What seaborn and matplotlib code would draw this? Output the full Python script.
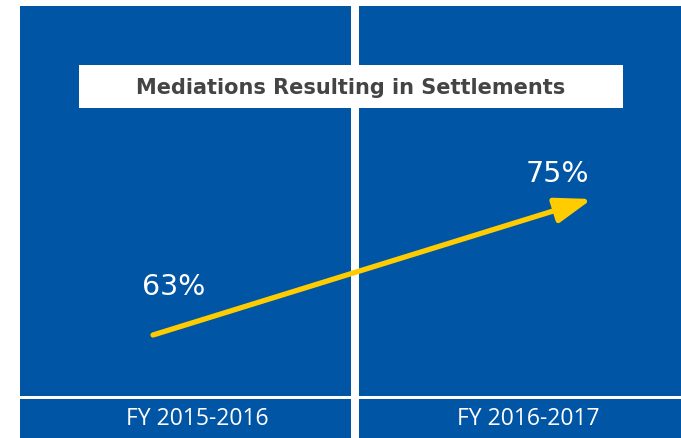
import matplotlib.pyplot as plt
import seaborn as sns
from matplotlib.patches import Rectangle

# Données
categories = ["FY 2015-2016", "FY 2016-2017"]
settlement_rates = [63, 75]
rate_labels = ["63%", "75%"]
title_text = "Mediations Resulting in Settlements"

BLUE = "#0055A5"
YELLOW = "#FFCC00"
W, H = 681, 439

sns.set_theme(style="white")
plt.rcParams["font.family"] = ["Open Sans", "DejaVu Sans"]

fig = plt.figure(figsize=(W / 100, H / 100), dpi=100)
fig.patch.set_facecolor("white")

# Zone principale (panneaux bleus)
ax = fig.add_axes([20 / W, 42 / H, 661 / W, 390 / H])
ax.set_facecolor(BLUE)
ax.set_xlim(-133 / 439, 528 / 439)
ax.set_ylim(63 - 61 / (136 / 12), 75 + 193 / (136 / 12))
ax.set_xticks([])
ax.set_yticks([])
for s in ax.spines.values():
    s.set_visible(False)
ax.add_patch(Rectangle((331 / 661, 0), 8 / 661, 1, transform=ax.transAxes,
                       facecolor="white", edgecolor="none", zorder=1))

# Flèche de progression
x_pos = list(range(len(categories)))
ax.annotate(
    "",
    xy=(x_pos[1], settlement_rates[1]),
    xytext=(x_pos[0], settlement_rates[0]),
    arrowprops=dict(
        arrowstyle="-|>,head_length=1.1,head_width=0.38",
        mutation_scale=20,
        color=YELLOW,
        lw=3.8,
        shrinkA=0,
        shrinkB=0,
    ),
    zorder=3,
)

# Étiquettes de pourcentage
label_offsets = [(15, 35), (-25, 19)]
for x, y, lab, off in zip(x_pos, settlement_rates, rate_labels, label_offsets):
    ax.annotate(lab, xy=(x, y), xytext=off, textcoords="offset points",
                ha="center", va="center", color="white", fontsize=20.5,
                family="DejaVu Sans", zorder=4)

# Bandeau des catégories
ax2 = fig.add_axes([20 / W, 0, 661 / W, 39 / H])
ax2.set_facecolor(BLUE)
ax2.set_xlim(ax.get_xlim())
ax2.set_ylim(0, 1)
ax2.set_xticks([])
ax2.set_yticks([])
for s in ax2.spines.values():
    s.set_visible(False)
ax2.add_patch(Rectangle((331 / 661, 0), 8 / 661, 1, transform=ax2.transAxes,
                        facecolor="white", edgecolor="none", zorder=1))
cat_offsets = [32, -46]
for x, cat, off in zip(x_pos, categories, cat_offsets):
    ax2.annotate(cat, xy=(x, 0.5), xytext=(off, 0), textcoords="offset points",
                 ha="center", va="center", color="white", fontsize=16.5)

# Encadré du titre
fig.add_artist(Rectangle((79 / W, (H - 109) / H), 544 / W, 43 / H,
                         transform=fig.transFigure, facecolor="white",
                         edgecolor="none", zorder=5))
fig.text(351 / W, (H - 87.5) / H, title_text, ha="center", va="center",
         fontsize=15, fontweight="bold", color="#444444",
         family="DejaVu Sans", zorder=6)

plt.savefig("out.png", dpi=100)
